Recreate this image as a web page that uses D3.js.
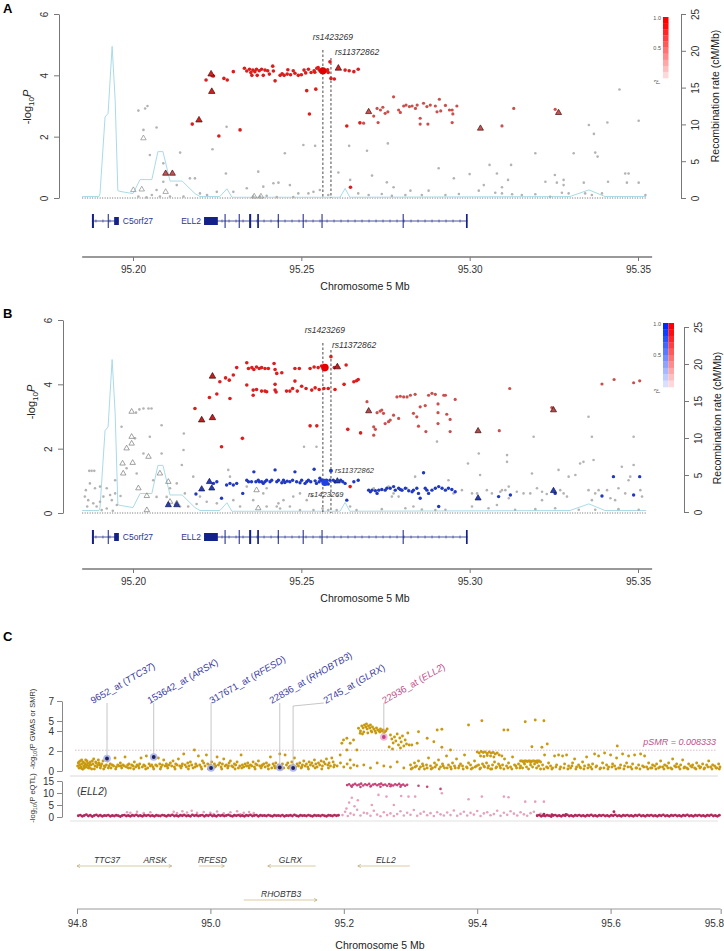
<!DOCTYPE html>
<html>
<head>
<meta charset="utf-8">
<script src="https://cdn.jsdelivr.net/npm/d3@7"></script>
<style>
  body { margin: 0; background: #fff; }
  svg { font-family: "Liberation Sans", Arial, sans-serif; }
</style>
</head>
<body>
<svg id="fig" width="724" height="951"></svg>
<script>
// ---------- panels A / B : positions are kb past 95.0 Mb, values are -log10(P) ----------
const recRate = [[184.9,0.2],[189.9,0.2],[190.2,0.6],[191.7,11.0],[192.6,11.5],[193.8,20.6],[194.7,13.3],[195.5,1.0],[196.1,0.9],[200.0,0.6],[202.1,2.5],[205.6,2.5],[207.4,6.3],[208.9,6.3],[211.0,2.3],[214.6,2.3],[218.4,0.6],[219.9,0.2],[225.8,0.2],[227.9,1.25],[229.4,0.1],[261.5,0.1],[263.0,1.3],[264.4,0.1],[329.8,0.2],[335.4,1.1],[340.2,0.2],[352.4,0.2]];

const snpLead = 256.4;      // rs1423269
const snpSecond = 258.8;    // rs11372862

const aHigh = [[221.7,3.85],[223.5,3.99],[223.9,3.98],[227.0,3.90],[228.0,3.85],[229.8,4.12],[233.1,4.23],[233.8,4.14],[234.6,4.20],[235.0,4.09],[235.6,4.17],[236.2,4.12],[236.7,4.20],[237.5,4.15],[238.2,4.20],[239.2,4.17],[235.3,4.00],[236.9,4.00],[238.7,4.00],[240.0,4.15],[240.5,4.04],[241.5,4.30],[241.7,4.14],[242.2,3.82],[243.7,4.00],[244.3,4.05],[244.9,4.00],[245.8,4.04],[246.0,4.18],[246.8,4.02],[247.6,4.15],[248.1,4.07],[249.1,4.00],[250.0,4.02],[250.8,4.17],[251.3,4.08],[252.1,4.20],[252.9,4.09],[253.8,4.15],[254.0,4.10],[254.6,4.23],[255.0,4.25],[255.3,4.17],[255.8,4.12],[256.3,4.20],[256.8,4.16],[257.3,4.14],[257.8,4.18],[258.0,4.09],[258.5,4.44],[258.8,3.90],[259.8,3.88],[263.0,4.17],[264.2,4.15],[265.6,4.12],[266.9,4.20],[251.6,3.50],[254.3,3.55],[252.4,2.74],[217.6,2.41],[225.5,2.02],[231.8,2.22],[263.5,2.35],[267.4,2.45],[264.6,0.35]];
const aHighTri = [[223.2,4.04],[223.4,3.47],[219.6,2.54],[261.0,4.23]];
const aMid = [[268.5,2.44],[271.5,2.67],[272.5,2.92],[272.8,2.46],[273.5,2.87],[274.2,2.96],[274.9,2.76],[275.7,2.81],[277.4,3.30],[278.9,2.87],[279.4,2.79],[280.4,3.00],[281.1,3.03],[282.1,2.98],[282.9,3.00],[283.9,2.92],[284.4,3.03],[285.3,2.60],[285.3,2.41],[286.3,3.09],[287.3,2.98],[287.6,2.41],[288.3,3.03],[289.8,3.00],[290.3,2.81],[291.0,3.22],[291.4,2.84],[292.8,3.02],[294.0,2.87],[294.8,2.87],[295.0,2.74],[294.8,2.46],[296.2,3.00],[313.1,2.92],[309.6,2.35],[325.4,2.89]];
const aMidTri = [[270.0,2.81],[303.2,2.27],[326.4,2.78],[209.7,0.80],[211.7,0.80]];
const aLow = [[201.6,2.85],[203.6,2.92],[204.3,3.00],[203.1,2.22],[207.0,2.30],[205.0,1.40],[209.0,1.13],[214.0,1.48],[223.6,1.59],[227.8,2.32],[245.1,1.46],[250.6,1.73],[254.1,1.70],[227.6,0.80],[237.2,0.86],[264.2,1.70],[261.0,0.83],[264.5,0.59],[209.0,0.53],[207.0,0.26],[213.0,0.42],[216.9,0.64],[218.4,0.64],[219.9,0.15],[222.0,0.10],[224.9,0.20],[229.8,0.20],[233.8,0.32],[238.7,0.37],[241.7,0.48],[243.2,0.50],[246.6,0.42],[249.1,0.15],[252.1,0.15],[253.6,0.20],[255.5,0.26],[258.0,0.10],[266.9,0.15],[201.6,0.05],[204.0,0.02],[205.6,0.10],[208.0,0.05],[211.0,0.05],[215.0,0.05],[235.7,0.05],[237.7,0.05],[239.7,0.07],[242.7,0.03],[247.6,0.03],[269.5,1.54],[275.7,1.78],[271.0,0.73],[275.4,0.51],[277.4,0.35],[282.4,0.24],[287.8,0.24],[290.8,0.97],[295.3,0.64],[296.8,0.13],[300.0,0.78],[302.7,0.24],[304.2,0.42],[305.9,1.08],[308.1,0.80],[309.6,0.35],[311.4,0.59],[312.3,1.08],[312.6,0.12],[319.5,1.46],[322.5,0.53],[325.3,0.75],[325.9,0.50],[327.9,0.59],[327.9,0.42],[330.9,1.46],[333.9,0.50],[335.4,2.38],[336.9,2.09],[337.3,1.48],[338.0,1.35],[341.1,0.53],[340.9,2.46],[344.5,3.54],[346.2,0.80],[347.2,0.80],[346.7,0.50],[350.2,2.52],[350.2,0.50],[352.2,0.10],[334.3,0.15],[336.3,0.10],[339.3,0.15],[327.4,0.17],[319.5,0.12],[315.5,0.10],[309.6,0.15],[307.6,0.17],[292.8,0.10],[285.8,0.10],[280.9,0.10],[276.9,0.07],[273.9,0.13],[270.0,0.10],[323.9,0.04],[329.4,0.15]];
const aLowTri = [[200.1,0.26],[202.6,0.28],[209.7,0.20],[203.1,1.95],[236.0,0.05],[238.0,0.05]];
const aLead = [[256.4,4.15]];

const bRed = [[233.8,4.67],[234.3,4.49],[235.3,4.52],[235.9,4.46],[236.7,4.54],[237.5,4.49],[238.2,4.52],[239.2,4.49],[240.2,4.49],[241.9,4.65],[242.2,4.46],[242.7,4.34],[244.2,4.36],[248.1,4.49],[249.4,4.49],[252.6,4.49],[253.8,4.54],[255.0,4.52],[256.0,4.57],[258.8,4.86],[259.8,4.52],[263.3,4.60],[266.4,4.11],[266.9,4.15],[230.8,4.52],[229.8,4.29],[228.6,4.13],[227.5,4.20],[225.8,4.08],[222.7,3.59],[224.9,3.70],[228.8,3.56],[218.4,3.25],[226.3,2.06],[232.5,2.32],[252.6,2.71],[254.6,2.71],[263.8,2.60],[267.6,2.49],[233.8,3.98],[235.7,3.82],[235.7,3.66],[236.7,3.84],[238.2,3.79],[239.2,3.79],[239.7,3.77],[242.2,4.00],[242.2,3.82],[242.5,3.76],[245.6,3.79],[246.6,3.79],[247.4,3.87],[248.1,4.10],[248.8,3.79],[250.1,3.94],[251.4,3.87],[253.1,3.82],[254.1,3.89],[255.3,3.84],[256.7,3.87],[258.0,3.87],[260.0,3.84],[262.7,4.00],[265.6,4.08],[264.5,0.82]];
const bRedTri = [[223.6,4.25],[220.4,2.89],[223.6,2.96],[260.7,4.54]];
const bRedMid = [[269.5,3.46],[271.5,2.42],[271.5,2.68],[272.0,2.60],[272.5,3.12],[273.4,3.17],[273.9,3.20],[274.4,3.10],[274.9,2.78],[275.9,2.84],[276.4,2.89],[277.4,3.04],[278.4,3.61],[279.4,3.63],[280.4,3.61],[281.4,3.61],[282.4,3.66],[283.8,3.69],[278.9,2.94],[283.3,3.10],[284.3,2.99],[284.8,2.70],[285.3,3.30],[286.8,3.34],[287.0,2.53],[287.8,3.66],[288.8,3.72],[289.8,3.69],[290.6,3.39],[290.6,3.12],[290.6,2.78],[292.3,3.66],[292.8,3.66],[293.2,3.07],[294.2,2.91],[294.2,2.53],[295.7,3.53],[311.9,3.87],[308.8,2.56],[324.4,3.28],[339.3,4.01],[342.9,4.15],[348.7,4.05],[350.5,4.11]];
const bRedMidTri = [[270.0,3.17],[324.9,3.20],[302.5,2.55]];
const bBlue = [[218.7,0.59],[223.9,0.92],[224.9,0.97],[226.3,0.46],[227.8,0.87],[228.8,0.92],[229.8,0.87],[230.8,0.92],[232.6,0.61],[233.8,1.02],[234.3,0.97],[235.2,0.97],[235.9,1.28],[236.5,0.97],[237.2,1.02],[237.5,0.97],[238.2,0.97],[238.7,0.92],[239.2,0.97],[239.7,1.02],[240.7,0.97],[241.2,1.02],[242.2,1.34],[242.7,0.97],[243.2,1.02],[244.2,0.94],[244.7,1.02],[245.1,0.95],[245.8,0.99],[246.6,0.97],[247.4,1.02],[248.1,1.28],[248.6,0.97],[249.6,0.94],[250.1,1.02],[251.1,0.92],[251.6,0.97],[252.1,1.02],[252.8,0.97],[253.8,1.36],[254.1,1.00],[254.5,0.92],[255.3,0.97],[255.5,1.08],[256.0,1.02],[257.5,1.02],[258.0,0.90],[258.5,1.02],[259.5,1.02],[260.0,0.97],[261.7,1.02],[262.3,0.97],[263.0,0.92],[263.5,0.40],[265.6,0.97],[266.9,1.02],[270.0,0.71],[270.5,0.66],[271.0,0.71],[272.0,0.69],[272.5,0.61],[273.0,0.71],[273.9,0.73],[274.9,0.71],[275.4,0.77],[276.4,0.77],[277.4,0.82],[277.9,0.71],[278.9,0.77],[279.4,0.73],[279.9,0.71],[280.9,0.77],[281.9,0.69],[282.9,0.66],[283.3,0.71],[284.3,0.77],[284.8,0.61],[285.3,0.46],[286.3,1.25],[286.8,0.77],[287.3,0.71],[287.8,0.61],[288.8,0.71],[289.8,0.77],[290.8,0.82],[291.8,0.77],[292.8,0.71],[293.7,0.77],[294.7,0.73],[295.7,0.66],[290.8,0.20],[308.6,0.51],[312.1,0.56],[339.3,0.53],[342.7,1.13],[348.7,0.56],[350.5,1.13],[325.4,0.61]];
const bBlueTri = [[220.4,0.74],[222.7,0.97],[223.4,0.77],[260.7,0.99],[302.5,0.46],[324.9,0.69],[210.5,0.25],[213.0,0.25]];
const bGray = [[187.0,1.31],[187.7,1.31],[188.5,1.31],[196.6,2.68],[200.9,3.12],[201.9,3.22],[203.1,3.25],[204.6,3.25],[205.5,3.25],[208.5,2.73],[200.6,2.32],[198.1,1.39],[201.1,1.23],[203.1,1.85],[205.0,2.37],[196.3,0.53],[194.7,0.61],[193.2,0.56],[191.2,0.51],[190.2,0.82],[187.2,0.92],[188.7,0.77],[186.7,0.40],[188.2,0.30],[189.2,0.20],[190.7,0.09],[192.2,0.14],[194.0,0.07],[195.2,0.25],[211.0,0.77],[213.0,0.92],[208.5,1.85],[214.5,1.49],[215.1,2.47],[215.0,1.96],[217.9,1.13],[219.9,0.51],[218.9,0.28],[221.9,0.35],[224.9,0.30],[228.3,1.34],[228.8,1.13],[233.8,0.82],[238.7,0.61],[239.7,0.77],[239.7,0.20],[242.7,0.20],[243.2,0.30],[243.7,0.14],[244.7,0.40],[247.6,0.51],[249.6,0.61],[253.1,0.53],[250.8,2.06],[254.5,2.06],[253.6,0.09],[256.3,0.14],[258.0,0.09],[260.5,0.09],[264.5,0.20],[266.4,0.09],[260.7,0.53],[185.7,0.51],[186.0,0.71],[186.4,0.20],[190.2,0.35],[193.7,0.40],[194.7,1.02],[192.2,0.77],[207.0,0.50],[206.0,1.02],[210.0,0.50],[214.0,0.20],[215.4,0.61],[216.4,0.20],[229.8,0.40],[231.8,0.20],[235.7,0.40],[246.6,0.20],[249.6,0.09],[251.6,0.40],[271.5,0.77],[273.0,0.71],[275.9,0.82],[276.9,0.51],[277.4,0.61],[278.9,0.51],[279.9,0.69],[281.4,0.77],[283.3,0.20],[283.8,1.13],[290.3,2.22],[289.8,0.09],[293.7,1.02],[295.2,0.61],[297.7,0.71],[299.5,1.54],[300.7,0.61],[302.2,0.61],[303.1,1.18],[302.7,1.85],[305.1,0.71],[306.6,0.61],[308.1,0.25],[309.1,0.66],[309.6,0.71],[310.6,0.71],[311.6,0.82],[311.1,1.80],[311.1,1.59],[311.6,0.46],[314.0,0.66],[316.0,0.61],[318.0,0.61],[318.5,1.23],[319.0,2.37],[320.0,0.77],[321.5,0.66],[321.5,0.40],[322.9,0.59],[326.4,1.34],[326.9,0.71],[327.9,0.61],[328.9,0.51],[329.4,1.13],[331.4,1.18],[332.8,1.54],[333.8,1.59],[335.3,2.99],[336.3,2.37],[336.8,1.65],[335.3,0.71],[337.3,0.61],[338.3,0.71],[336.3,0.40],[340.8,0.71],[341.8,0.46],[343.2,0.40],[344.2,0.77],[345.2,1.44],[346.2,0.61],[347.2,1.02],[347.7,1.13],[348.7,1.49],[348.7,2.37],[350.7,0.71],[351.2,0.51],[273.9,0.12],[280.9,0.15],[285.8,0.11],[292.8,0.10],[300.7,0.20],[305.6,0.15],[313.5,0.10],[319.5,0.12],[325.4,0.15],[332.4,0.10],[337.3,0.10],[344.2,0.12],[350.2,0.10]];
const bGrayTri = [[199.6,3.15],[199.6,2.37],[199.6,2.16],[198.1,2.01],[196.9,1.54],[199.9,1.56],[197.1,1.23],[204.6,1.75],[201.6,0.77],[204.1,0.53],[208.0,1.23],[210.5,0.97],[211.0,0.35],[213.0,0.30],[236.7,0.71],[237.2,0.15],[204.1,0.09]];
const bLeadRed = [[257.0,4.52]];
const bLeadBlue = [[257.0,0.95]];
const bSecondBlue = [[258.8,1.31]];

// gene models for A / B (kb past 95.0 Mb)
const genesAB = [
  { name: "C5orf27", start: 187.8, end: 195.8, labelSide: "right",
    exons: [[187.8,188.4],[192.5,192.7],[194.4,195.8]] },
  { name: "ELL2", start: 221.1, end: 299.4, labelSide: "left",
    exons: [[221.1,225.2],[227.2,227.5],[231.4,231.7],[234.5,235.1],[236.9,237.4],[243.0,243.3],[250.4,250.7],[256.0,256.3],[280.1,280.4],[298.9,299.4]] }
];

// ---------- panel C : positions are kb past 94.8 Mb ----------
const cGwas = [[1,.5],[2,.8],[3,.3],[4,.6],[5,1.0],[6,.4],[7,.7],[8,.2],[9,.9],[10,.5],[11,.3],[12,.7],[13,1.1],[14,.4],[15,.6],[16,.8],[17,.3],[18,.5],[20,.9],[21,.6],[22,.2],[24,.7],[25,1.2],[27,.5],[29,.8],[30,.4],[32,1.1],[34,.6],[35,.3],[37,.7],[39,1.0],[41,.5],[42,.4],[44,.6],[46,1.0],[48,.5],[50,.7],[51,.3],[53,.6],[55,.5],[57,1.3],[59,.4],[61,.6],[63,.5],[65,.8],[67,.3],[69,.6],[71,.5],[72,1.4],[74,.4],[76,.6],[78,.7],[80,.3],[82,.6],[84,.5],[86,.9],[88,.4],[90,.6],[92,.5],[94,.7],[96,1.3],[98,.4],[100,.6],[102,.5],[104,1.5],[106,.3],[108,.7],[110,.5],[112,.6],[114,.4],[116,1.4],[118,.6],[120,.5],[122,1.3],[124,.7],[126,.4],[128,.6],[130,1.1],[132,.5],[134,.7],[136,.3],[138,.6],[140,.8],[142,.5],[144,1.0],[146,.4],[148,.7],[150,.6],[152,1.2],[154,.5],[156,.3],[158,.7],[160,1.7],[162,.6],[164,.4],[166,.8],[168,.5],[170,.9],[172,.6],[174,.3],[176,2.1],[178,.7],[180,.5],[182,1.5],[184,.6],[186,.4],[188,1.0],[190,.8],[192,.5],[194,1.6],[196,.7],[198,.4],[200,.6],[202,.9],[204,.3],[206,.7],[208,.5],[210,1.4],[212,.6],[214,.8],[216,.4],[218,.7],[220,1.2],[222,.5],[224,.6],[226,.3],[228,.8],[230,1.0],[232,.5],[234,.4],[236,.7],[238,.6],[240,.9],[242,.3],[244,.5],[246,1.6],[248,.6],[250,.4],[252,.7],[254,.5],[256,.8],[258,.3],[260,.6],[262,.5],[264,.9],[266,.4],[268,.7],[270,.6],[272,1.0],[274,.5],[276,.3],[278,.6],[280,.7],[282,.4],[284,.8],[286,.5],[288,.6],[290,1.4],[292,.3],[294,.7],[296,.5],[298,.8],[300,.4],[302,.6],[304,1.7],[306,.5],[308,.7],[310,.3],[312,1.6],[314,.6],[316,.8],[318,.4],[320,.5],[322,.9],[324,.6],[326,1.3],[328,.4],[330,.7],[332,.5],[334,.8],[336,.3],[338,.6],[340,1.0],[342,.5],[344,.7],[346,.4],[348,.9],[350,.6],[352,.8],[354,.5],[356,1.1],[358,.7],[360,.4],[362,.8],[364,.6],[366,1.0],[368,.5],[370,.9],[372,.7],[374,1.2],[376,.6],[378,.8],[380,.5],[382,1.3],[384,.9],[386,.6],[3,.9],[7,1.1],[11,.8],[15,1.0],[19,.7],[23,1.0],[28,.9],[33,.8],[5,.3],[9,.2],[13,.5],[19,.3],[26,.2],[31,.6],[36,.5],[40,.2],[47,.3],[58,.2],[66,.5],[77,.3],[85,.2],[93,.3],[103,.2],[115,.2],[125,.2],[135,.5],[147,.2],[157,.5],[167,.2],[177,.4],[187,.2],[197,.2],[207,.4],[217,.2],[227,.5],[237,.2],[247,.3],[257,.5],[267,.2],[277,.5],[287,.2],[297,.3],[307,.2],[317,.3],[327,.2],[337,.4],[347,.2],[357,.3],[367,.2],[377,.3],[385,.4],
[394.6,1.6],[397.1,2.77],[399.6,3.1],[404.6,3.27],[404.6,2.1],[409.6,2.77],[409.6,1.1],[414.6,3.1],[419.6,2.1],[422.1,4.27],[424.6,3.77],[390,.5],[395,.8],[400,.4],[405,.7],[410,.3],[415,.6],[420,.5],
[425,4.0],[427,4.5],[428,3.7],[429,4.3],[430,3.9],[431,4.6],[433,4.4],[434,4.7],[435,4.2],[436,3.8],[437,4.5],[439,4.3],[440,4.6],[441,4.0],[442,3.9],[443,4.4],[445,4.2],[447,4.0],[448,3.8],[449,4.3],[451,4.1],[453,4.0],[454,3.9],[455,4.2],[457,4.0],[459,4.1],[460,3.8],[461,3.9],[463,4.0],[465,4.2],[468,2.4],[470,3.6],[472,3.2],[473,2.2],[474,2.8],[476,3.4],[478,3.0],[480,3.7],[482,2.6],[484,3.3],[485,2.3],[486,2.9],[488,3.5],[490,2.5],[492,3.1],[494,2.7],[496,3.8],[498,2.6],[502,2.6],[510,2.77],[512,3.93],[525,3.27],[535,2.93],[540,4.1],[547,4.17],[587,4.6],[607,5.03],[640,4.1],[646,4.1],[672,4.93],[687,5.1],[700,5.03],[547,2.37],[560,2.1],[682,2.43],[697,2.37],[705,2.7],[810,2.5],[430,.6],[440,.3],[450,.8],[460,.5],[470,.4],[480,.9],[490,.3],
[500,.6],[503,.3],[506,.8],[509,.5],[512,1.0],[515,.4],[518,.7],[521,.2],[524,.6],[527,1.3],[530,.5],[533,.3],[536,.8],[539,.6],[542,1.1],[545,.4],[548,.7],[551,.3],[554,1.5],[557,.6],[560,.4],[563,.8],[566,.5],[569,1.2],[572,.3],[575,.7],[578,.5],[581,1.6],[584,.4],[587,.8],[590,.6],[593,.3],[596,1.0],[599,.5],[600,1.9],[603,1.8],[606,1.95],[609,1.85],[612,1.9],[615,1.75],[618,1.9],[621,1.8],[624,1.85],[627,1.7],[630,1.8],[605,1.5],[610,1.45],[615,1.55],[620,1.5],[625,1.4],[633,1.6],[637,1.5],[602,.6],[605,.3],[608,.7],[611,.4],[614,.8],[617,.5],[620,.2],[623,.6],[626,.9],[629,.4],[632,.7],[635,.3],[638,.6],[641,1.2],[644,.5],[647,.8],[650,.4],[653,1.4],[656,.6],[659,.3],[662,.7],[665,1.0],[667,1.0],[669,.95],[671,1.0],[673,1.0],[675,.95],[677,1.0],[679,1.0],[681,.95],[683,1.0],[685,1.0],[687,.95],[689,1.0],[691,1.0],[693,1.0],[695,.9],[670,.85],[680,.85],[690,.85],[665,.5],[668,.3],[671,.7],[674,.4],[677,.2],[680,.6],[683,.4],[686,.7],[689,.3],[692,.5],[695,.2],[698,.6],[701,1.6],[704,.4],[707,.8],[710,.5],[713,.3],[716,1.5],[719,.6],[722,1.6],[725,.4],[728,1.5],[731,.7],[734,1.6],[737,.5],[740,.3],[743,.8],[746,1.2],[749,.4],[752,.6],[755,.3],[758,.9],[761,.5],[764,1.4],[767,.6],[770,.4],[773,.7],[776,1.7],[779,.5],[782,1.5],[785,.3],[788,.8],[791,1.8],[794,.6],[797,.4],[800,1.6],[803,.7],[806,.5],[809,1.3],[812,.3],[815,.6],[818,1.7],[821,.5],[824,.8],[827,1.5],[830,.4],[833,.7],[836,1.6],[839,.3],[842,.6],[845,1.7],[848,.5],[851,1.5],[854,.4],[857,.8],[860,.3],[863,.6],[866,.5],[869,.7],[872,.3],[875,1.0],[878,.4],[881,.6],[884,.5],[887,.8],[890,.3],[893,1.2],[896,.5],[899,.7],[902,.4],[905,.6],[908,1.1],[911,.4],[914,.3],[917,.7],[920,.5],[923,.6],[926,.3],[929,.8],[932,.5],[935,.4],[938,.7],[941,.3],[944,.6],[947,1.0],[950,.4],[953,.6],[956,.5],[959,.3],[962,.7],[964,.4],
[501,.2],[507,.4],[513,.2],[519,.5],[525,.3],[531,.2],[537,.4],[543,.2],[549,.5],[555,.3],[561,.2],[567,.3],[573,.5],[579,.2],[585,.3],[591,.2],[597,.4],[604,.2],[610,.5],[616,.3],[622,.2],[628,.3],[634,.5],[640,.2],[646,.3],[652,.2],[658,.5],[664,.3],[700,.2],[706,.3],[712,.2],[718,.4],[724,.2],[730,.3],[736,.2],[742,.5],[748,.2],[754,.4],[760,.2],[766,.3],[772,.2],[778,.4],[784,.2],[790,.3],[796,.2],[802,.4],[808,.2],[814,.3],[820,.2],[826,.4],[832,.2],[838,.3],[844,.2],[850,.4],[856,.2],[862,.3],[868,.2],[874,.4],[880,.2],[886,.3],[892,.2],[898,.4],[904,.2],[910,.3],[916,.2],[922,.4],[928,.2],[934,.3],[940,.2],[946,.4],[952,.2],[958,.3],[963,.2]];

const cEqtl = [[2,.5],[5,.8],[8,.3],[11,.6],[14,1.0],[17,.4],[20,.7],[23,.2],[26,.6],[29,.9],[32,.4],[35,.7],[38,.3],[41,.6],[44,.5],[47,.8],[50,.3],[53,.6],[56,.4],[59,.7],[62,.5],[65,.2],[68,.6],[71,.8],[74,.4],[77,.6],[80,.3],[83,.7],[86,.5],[89,.9],[92,.4],[95,.6],[98,.3],[101,.7],[104,.5],[107,.8],[110,.4],[113,.6],[116,.3],[119,.7],[122,.5],[125,.4],[128,.8],[131,.6],[134,.3],[137,.7],[140,.5],[143,.9],[146,.4],[149,.6],[152,.3],[155,.7],[158,.5],[161,.8],[164,.4],[167,.6],[170,.3],[173,.9],[176,.5],[179,.7],[182,.4],[185,.6],[188,.8],[191,.3],[194,.7],[197,.5],[200,.9],[203,.4],[206,.6],[209,.3],[212,.8],[215,.5],[218,.7],[221,.4],[224,.6],[227,.9],[230,.5],[233,.3],[236,.7],[239,.5],[242,.8],[245,.4],[248,.6],[251,.3],[254,.7],[257,.5],[260,.9],[263,.4],[266,.6],[269,.8],[272,.3],[275,.7],[278,.5],[281,.6],[284,.4],[287,.8],[290,.5],[293,.3],[296,.7],[299,.5],[302,.6],[305,.4],[308,.8],[311,.3],[314,.6],[317,.5],[320,.7],[323,.4],[326,.9],[329,.5],[332,.3],[335,.7],[338,.5],[341,.6],[344,.4],[347,.8],[350,.5],[353,.3],[356,.7],[359,.5],[362,.6],[365,.4],[368,.8],[371,.5],[374,.3],[377,.7],[380,.6],[383,.4],[386,.8],[389,.5],[392,.7],
[690,.5],[693,.8],[696,.3],[699,.6],[702,.4],[705,.7],[708,.5],[711,.2],[714,.6],[717,.8],[720,.4],[723,.6],[726,.3],[729,.7],[732,.5],[735,.9],[738,.4],[741,.6],[744,.3],[747,.7],[750,.5],[753,.8],[756,.4],[759,.6],[762,.3],[765,.7],[768,.5],[771,.9],[774,.4],[777,.6],[780,.3],[783,.7],[786,.5],[789,.8],[792,.4],[795,.6],[798,.3],[801,.7],[804,.5],[807,.9],[810,.4],[813,.6],[816,.3],[819,.7],[822,.5],[825,.8],[828,.4],[831,.6],[834,.3],[837,.7],[840,.5],[843,.9],[846,.4],[849,.6],[852,.3],[855,.7],[858,.5],[861,.8],[864,.4],[867,.6],[870,.3],[873,.7],[876,.5],[879,.9],[882,.4],[885,.6],[888,.3],[891,.7],[894,.5],[897,.8],[900,.4],[903,.6],[906,.3],[909,.7],[912,.5],[915,.9],[918,.4],[921,.6],[924,.3],[927,.7],[930,.5],[933,.8],[936,.4],[939,.6],[942,.3],[945,.7],[948,.5],[951,.9],[954,.4],[957,.6],[960,.3],[963,.7],[805,2.2],[700,1.2],[712,1.0],[733,1.1]];

const cEqtlLight = [[75,2.0],[80,1.8],[90,2.2],[100,1.6],[110,2.0],[145,2.2],[150,1.6],[158,2.4],[165,1.9],[172,2.6],[180,1.7],[190,2.1],[200,1.8],[210,2.3],[220,1.5],[230,2.0],[240,2.4],[250,1.7],[258,2.1],[265,1.6],[160,1.0],[205,1.2],[245,1.1],[398,.8],[402,2.2],[406,.4],[410,1.5],[415,.9],[420,3.0],[425,.6],[430,1.8],[435,1.5],[440,.5],[445,2.6],[450,1.0],[455,.3],[460,2.0],[465,.8],[470,1.5],[475,.4],[480,1.2],[485,2.4],[490,.6],[495,1.8],[500,.9],[505,2.9],[510,.5],[515,1.4],[520,2.2],[525,.7],[530,1.6],[535,.4],[540,2.0],[545,1.1],[550,.6],[555,1.9],[560,.8],[565,2.7],[570,.5],[575,1.3],[580,2.2],[585,.6],[590,1.7],[595,1.0],[600,2.5],[605,.4],[610,1.5],[615,2.0],[620,.7],[625,1.2],[630,2.6],[635,.5],[640,1.8],[645,.9],[650,2.4],[655,1.4],[660,.6],[665,2.0],[670,1.1],[675,.5],[680,1.6],[685,2.2],[690,.8],[695,1.3],[404,3.5],[408,6.0],[412,8.0],[416,4.5],[421,7.0],[442,5.0],[475,5.0],[452,9.2],[464,8.5],[486,8.75],[497,8.5],[507,8.5],[547,9.9],[587,7.4],[607,8.5],[640,8.5],[647,8.2],[672,6.4],[687,6.4],[700,6.4]];

const cEqtlTop = [[405,13.3],[408,13.6],[411,13.0],[414,13.4],[417,13.8],[420,13.2],[423,13.5],[426,13.9],[429,13.1],[432,13.6],[435,13.3],[438,13.8],[441,13.0],[444,13.5],[447,13.7],[450,13.2],[453,13.6],[456,13.9],[459,13.3],[462,13.5],[465,13.0],[468,13.7],[471,13.4],[474,13.1],[477,13.6],[480,13.3],[483,13.8],[486,13.2],[489,13.5],[492,13.0],[495,13.4],[412,12.6],[425,12.5],[440,12.7],[455,12.6],[470,12.8],[485,12.6],[512,13.0],[525,12.6],[545,11.7]];

// SMR probes: position (Mb), -log10 P(SMR), label anchor (Mb)
const cProbes = [
  { probe: "9652_at",   gene: "TTC37",   pos: 94.845, p: 1.25, anchor: 94.824, hit: false },
  { probe: "153642_at", gene: "ARSK",    pos: 94.915, p: 1.40, anchor: 94.909, hit: false },
  { probe: "317671_at", gene: "RFESD",   pos: 95.001, p: 0.30, anchor: 95.002, hit: false },
  { probe: "22836_at",  gene: "RHOBTB3", pos: 95.104, p: 0.35, anchor: 95.092, hit: false },
  { probe: "2745_at",   gene: "GLRX",    pos: 95.124, p: 0.30, anchor: 95.173, hit: false },
  { probe: "22936_at",  gene: "ELL2",    pos: 95.260, p: 3.40, anchor: 95.261, hit: true }
];
const pSMR = 0.008333;

const cGenes = [
  { name: "TTC37",   start: 94.800, end: 94.861, strand: -1, row: 0, label: 94.845 },
  { name: "ARSK",    start: 94.861, end: 94.942, strand: 1,  row: 0, label: 94.917 },
  { name: "RFESD",   start: 94.983, end: 95.021, strand: 1,  row: 0, label: 95.003 },
  { name: "GLRX",    start: 95.086, end: 95.158, strand: -1, row: 0, label: 95.120 },
  { name: "ELL2",    start: 95.221, end: 95.299, strand: -1, row: 0, label: 95.263 },
  { name: "RHOBTB3", start: 95.050, end: 95.160, strand: 1,  row: 1, label: 95.106 }
];
const cTickVals = [94.8, 95.0, 95.2, 95.4, 95.6, 95.765];
const cTickLabels = ["94.8", "95.0", "95.2", "95.4", "95.6", "95.8"];

// ---------------------------------------------------------------
const svg = d3.select("#fig");
const mbAB = k => 95 + k / 1000;
const mbC = k => 94.8 + k / 1000;
const intFmt = d3.format("d");

function drawDots(g, data, fx, fy, r, fill, opt = {}) {
  g.append("g").selectAll("circle").data(data).join("circle")
    .attr("cx", fx).attr("cy", fy).attr("r", r)
    .attr("fill", fill)
    .attr("stroke", opt.stroke || "none").attr("stroke-width", opt.sw || 0)
    .attr("opacity", opt.op == null ? 1 : opt.op);
}
function drawTris(g, data, fx, fy, size, fill, stroke) {
  const sym = d3.symbol().type(d3.symbolTriangle).size(size);
  g.append("g").selectAll("path").data(data).join("path")
    .attr("transform", d => `translate(${fx(d)},${fy(d)})`)
    .attr("d", sym).attr("fill", fill).attr("stroke", stroke).attr("stroke-width", 0.7);
}

function locus(P) {
  const g = svg.append("g");
  const x = d3.scaleLinear().domain([95.20, 95.35]).range([133, 638]);
  const y = d3.scaleLinear().domain([0, 6]).range([P.base, P.top]);
  const yr = d3.scaleLinear().domain([0, 25]).range([P.recBase, P.recTop]);
  const fx = d => x(mbAB(d[0])), fy = d => y(d[1]);

  // panel letter
  g.append("text").attr("x", 3).attr("y", P.letterY).attr("font-size", 13).attr("font-weight", "bold").text(P.letter);

  // left axis
  const la = g.append("g").attr("transform", `translate(${P.axisX},0)`)
    .call(d3.axisLeft(y).tickValues([0, 2, 4, 6]).tickFormat(intFmt).tickSize(5).tickSizeOuter(0));
  la.select(".domain").attr("stroke", "#777");
  la.selectAll(".tick line").attr("stroke", "#777");
  la.selectAll(".tick text").attr("transform", "rotate(-90)").attr("x", 0).attr("y", -11).attr("dy", 0)
    .attr("text-anchor", "middle").attr("font-size", 10).attr("fill", "#333").attr("font-family", "Liberation Sans, Arial");
  const yl = g.append("text").attr("transform", `translate(${P.ylabX},${P.ylabY}) rotate(-90)`)
    .attr("text-anchor", "middle").attr("font-size", 11).attr("fill", "#222");
  yl.append("tspan").text("-log");
  yl.append("tspan").attr("font-size", 8).attr("dy", 3).text("10");
  yl.append("tspan").attr("font-style", "italic").attr("dy", -3).text("P");

  // right axis (recombination)
  const ra = g.append("g").attr("transform", `translate(${P.rightX},0)`)
    .call(d3.axisRight(yr).tickValues([0, 5, 10, 15, 20, 25]).tickFormat(intFmt).tickSize(5).tickSizeOuter(0));
  ra.select(".domain").attr("stroke", "#777");
  ra.selectAll(".tick line").attr("stroke", "#777");
  ra.selectAll(".tick text").attr("transform", "rotate(-90)").attr("x", 0).attr("y", 18).attr("dy", 0)
    .attr("text-anchor", "middle").attr("font-size", 10).attr("fill", "#333").attr("font-family", "Liberation Sans, Arial");
  g.append("text").attr("transform", `translate(${P.rlabX},${P.rlabY}) rotate(-90)`)
    .attr("text-anchor", "middle").attr("font-size", 10.5).attr("fill", "#222").text("Recombination rate (cM/Mb)");

  // baseline
  g.append("line").attr("x1", fx([184.9])).attr("x2", fx([352.4])).attr("y1", y(0)).attr("y2", y(0))
    .attr("stroke", "#444").attr("stroke-width", 0.8).attr("stroke-dasharray", "1,1.5");

  // recombination rate
  g.append("path").datum(recRate)
    .attr("d", d3.line().x(fx).y(d => yr(d[1])))
    .attr("fill", "none").attr("stroke", "#a9dbe7").attr("stroke-width", 1);

  // SNP dashed markers
  P.snpLines.forEach(s => {
    g.append("line").attr("x1", fx([s.pos])).attr("x2", fx([s.pos])).attr("y1", s.top).attr("y2", y(0))
      .attr("stroke", "#333").attr("stroke-width", 0.9).attr("stroke-dasharray", "2.5,2");
    g.append("text").attr("x", fx([s.pos]) + s.dx).attr("y", s.ty).attr("text-anchor", s.anchor)
      .attr("font-size", s.fs || 8.5).attr("font-style", "italic").attr("fill", "#333").text(s.name);
  });

  // points
  P.layers.forEach(L => {
    if (L.tri) drawTris(g, L.data, fx, fy, L.size, L.fill, L.stroke);
    else drawDots(g, L.data, fx, fy, L.r, L.fill, L);
  });
  (P.innerLabels || []).forEach(s => {
    g.append("text").attr("x", fx([s.pos]) + s.dx).attr("y", y(s.v)).attr("font-size", 7.5)
      .attr("font-style", "italic").attr("fill", "#333").text(s.name);
  });

  // genes
  genesAB.forEach(gn => {
    const gy = P.geneY;
    g.append("line").attr("x1", fx([gn.start])).attr("x2", fx([gn.end])).attr("y1", gy).attr("y2", gy)
      .attr("stroke", "#1f2a8a").attr("stroke-width", 0.8);
    d3.range(fx([gn.start]) + 4, fx([gn.end]) - 2, 7).forEach(tx => {
      g.append("line").attr("x1", tx).attr("x2", tx).attr("y1", gy - 1.5).attr("y2", gy + 1.5)
        .attr("stroke", "#1f2a8a").attr("stroke-width", 0.6);
    });
    gn.exons.forEach(e => {
      const w = Math.max(fx([e[1]]) - fx([e[0]]), 1);
      const h = w > 3 ? 8 : 14;
      g.append("rect").attr("x", fx([e[0]])).attr("width", w).attr("y", gy - h / 2).attr("height", h).attr("fill", "#14218a");
    });
    const lx = gn.labelSide === "right" ? fx([gn.end]) + 4 : fx([gn.start]) - 3;
    g.append("text").attr("x", lx).attr("y", gy + 3).attr("text-anchor", gn.labelSide === "right" ? "start" : "end")
      .attr("font-size", 8.5).attr("fill", "#2a3596").text(gn.name);
  });

  // x axis
  const xa = g.append("g").attr("transform", `translate(0,${P.axisY})`)
    .call(d3.axisBottom(x).tickValues([95.20, 95.25, 95.30, 95.35]).tickFormat(d3.format(".2f")).tickSize(4).tickSizeOuter(0));
  xa.select(".domain").remove();
  xa.selectAll(".tick line").attr("stroke", "#777");
  xa.selectAll(".tick text").attr("font-size", 10).attr("fill", "#333").attr("y", 9).attr("font-family", "Liberation Sans, Arial");
  g.append("line").attr("x1", fx([184.9])).attr("x2", fx([354.2])).attr("y1", P.axisY).attr("y2", P.axisY)
    .attr("stroke", "#777").attr("stroke-width", 1.4);
  g.append("text").attr("x", 365).attr("y", P.axisY + 33).attr("text-anchor", "middle").attr("font-size", 10.5)
    .attr("fill", "#222").text("Chromosome 5 Mb");

  // r2 legend
  const steps = d3.range(10);
  P.legendCols.forEach((col, ci) => {
    steps.forEach(i => {
      const h = P.legendH / 10;
      g.append("rect").attr("x", P.legendX + ci * 5.5).attr("y", P.legendY + i * h).attr("width", 5.5).attr("height", h + 0.3)
        .attr("fill", d3.interpolateRgb("#ffffff", col)(1 - i / 10 + 0.05));
    });
  });
  g.append("text").attr("x", P.legendX - 2).attr("y", P.legendY + 3).attr("text-anchor", "end").attr("font-size", 5.5).attr("fill", "#555").text("1.0");
  g.append("text").attr("x", P.legendX - 2).attr("y", P.legendY + P.legendH / 2 + 2).attr("text-anchor", "end").attr("font-size", 5.5).attr("fill", "#555").text("0.5");
  const r2 = g.append("text").attr("transform", `translate(${P.legendX - 3},${P.legendY + P.legendH + 4}) rotate(-90)`)
    .attr("text-anchor", "middle").attr("font-size", 6.5).attr("fill", "#555");
  r2.append("tspan").text("r");
  r2.append("tspan").attr("font-size", 4.5).attr("dy", -2).text("2");
}

locus({
  letter: "A", letterY: 13, top: 14, base: 198, recTop: 14, recBase: 198, axisX: 59, rightX: 681,
  ylabX: 31, ylabY: 107, rlabX: 719, rlabY: 96, geneY: 221, axisY: 257,
  legendX: 663, legendY: 17, legendH: 61, legendCols: ["#ff0000"],
  snpLines: [
    { name: "rs1423269", pos: snpLead, top: 50, ty: 40, dx: 10, anchor: "middle" },
    { name: "rs11372862", pos: snpSecond, top: 58, ty: 55, dx: 4, anchor: "start" }
  ],
  layers: [
    { data: aLow, r: 1.3, fill: "#b3b3b3" },
    { data: aLowTri, tri: true, size: 13, fill: "none", stroke: "#8a8a8a" },
    { data: aMid, r: 1.6, fill: "#c9504d" },
    { data: aMidTri, tri: true, size: 16, fill: "#c25454", stroke: "#4a1010" },
    { data: aHigh, r: 1.8, fill: "#dd1c1c" },
    { data: aHighTri, tri: true, size: 18, fill: "#d42020", stroke: "#4a0c0c" },
    { data: aLead, r: 3.6, fill: "#e00000" }
  ]
});

locus({
  letter: "B", letterY: 318, top: 320, base: 513, recTop: 327, recBase: 512, axisX: 63, rightX: 684,
  ylabX: 35, ylabY: 402, rlabX: 721, rlabY: 418, geneY: 537, axisY: 569,
  legendX: 663, legendY: 323, legendH: 64, legendCols: ["#0033ff", "#ff0000"],
  snpLines: [
    { name: "rs1423269", pos: snpLead, top: 343, ty: 333, dx: 2, anchor: "middle" },
    { name: "rs11372862", pos: snpSecond, top: 350, ty: 348, dx: 1, anchor: "start" }
  ],
  innerLabels: [
    { name: "rs11372862", pos: snpSecond, v: 1.25, dx: 4 },
    { name: "rs1423269", pos: snpLead, v: 0.5, dx: -15 }
  ],
  layers: [
    { data: bGray, r: 1.3, fill: "#b3b3b3" },
    { data: bGrayTri, tri: true, size: 13, fill: "none", stroke: "#7a7a7a" },
    { data: bBlue, r: 1.7, fill: "#2138c0" },
    { data: bBlueTri, tri: true, size: 16, fill: "#2a3db5", stroke: "#0f1850" },
    { data: bRedMid, r: 1.6, fill: "#c9504d" },
    { data: bRedMidTri, tri: true, size: 16, fill: "#b24a4a", stroke: "#3e0c0c" },
    { data: bRed, r: 1.8, fill: "#dc1e1e" },
    { data: bRedTri, tri: true, size: 18, fill: "#c81e1e", stroke: "#3e0a0a" },
    { data: bLeadRed, r: 3.8, fill: "#e80000" },
    { data: bLeadBlue, r: 3.6, fill: "#1f42e0" },
    { data: bSecondBlue, r: 2.0, fill: "#1f3ad0" }
  ]
});

// ---------------- panel C ----------------
(function () {
  const g = svg.append("g");
  const x = d3.scaleLinear().domain([94.8, 95.6]).range([77, 610.6]);
  const yT = d3.scaleLinear().domain([0, 7]).range([771, 701]);
  const yB = d3.scaleLinear().domain([0, 15]).range([817, 781]);
  const fx = d => x(mbC(d[0]));

  g.append("text").attr("x", 3).attr("y", 641).attr("font-size", 13).attr("font-weight", "bold").text("C");

  // panel frames
  g.append("line").attr("x1", 70).attr("x2", 718).attr("y1", 776).attr("y2", 776).attr("stroke", "#ececec").attr("stroke-width", 2);
  g.append("line").attr("x1", 70).attr("x2", 718).attr("y1", 821).attr("y2", 821).attr("stroke", "#f0f0f0").attr("stroke-width", 2);

  // axes
  function yAxis(scale, ticks) {
    const a = g.append("g").attr("transform", "translate(62,0)")
      .call(d3.axisLeft(scale).tickValues(ticks).tickFormat(intFmt).tickSize(5).tickSizeOuter(0));
    a.select(".domain").attr("stroke", "#888");
    a.selectAll(".tick line").attr("stroke", "#888");
    a.selectAll(".tick text").attr("font-size", 10).attr("fill", "#333").attr("x", -8).attr("font-family", "Liberation Sans, Arial");
  }
  yAxis(yT, [0, 2, 4, 5, 7]);
  yAxis(yB, [0, 5, 10, 15]);
  const t1 = g.append("text").attr("transform", "translate(35,729) rotate(-90)").attr("text-anchor", "middle").attr("font-size", 7.5).attr("fill", "#333");
  t1.append("tspan").text("-log");
  t1.append("tspan").attr("font-size", 5.5).attr("dy", 2).text("10");
  t1.append("tspan").attr("dy", -2).text("(P GWAS or SMR)");
  const t2 = g.append("text").attr("transform", "translate(35,798) rotate(-90)").attr("text-anchor", "middle").attr("font-size", 7.5).attr("fill", "#333");
  t2.append("tspan").text("-log");
  t2.append("tspan").attr("font-size", 5.5).attr("dy", 2).text("10");
  t2.append("tspan").attr("dy", -2).text("(P eQTL)");

  // threshold
  const thr = -Math.log10(pSMR);
  g.append("line").attr("x1", 75).attr("x2", 716).attr("y1", yT(thr)).attr("y2", yT(thr))
    .attr("stroke", "#c9a3b4").attr("stroke-width", 0.7).attr("stroke-dasharray", "1.5,1.5");
  g.append("text").attr("x", 716).attr("y", yT(thr) - 5).attr("text-anchor", "end").attr("font-size", 9)
    .attr("font-style", "italic").attr("fill", "#c0508a").text("pSMR = 0.008333");

  // GWAS points
  drawDots(g, cGwas, fx, d => yT(d[1]), 1.45, "#c9990f");

  // eQTL points
  drawDots(g, cEqtlLight, fx, d => yB(d[1]), 1.3, "#e6a1be");
  drawDots(g, cEqtl, fx, d => yB(d[1]), 1.45, "#b3285c");
  drawDots(g, cEqtlTop, fx, d => yB(d[1]), 1.3, "#c9457a");
  const el = g.append("text").attr("x", 77).attr("y", 795).attr("font-size", 10).attr("fill", "#333");
  el.append("tspan").text("(");
  el.append("tspan").attr("font-style", "italic").text("ELL2");
  el.append("tspan").text(")");

  // probes: connectors, markers, labels
  cProbes.forEach(p => {
    const px = x(p.pos), py = yT(p.p), ax = x(p.anchor);
    g.append("path").attr("d", d3.line()([[px, py - 3], [px, 706], [Math.max(px, ax - 2), 703]]))
      .attr("fill", "none").attr("stroke", "#b8b8b8").attr("stroke-width", 0.8);
    g.append("circle").attr("cx", px).attr("cy", py).attr("r", 3.8)
      .attr("fill", p.hit ? "#eeb3d0" : "#aab4ea").attr("opacity", 0.9);
    g.append("circle").attr("cx", px).attr("cy", py).attr("r", 1.9)
      .attr("fill", p.hit ? "#c0408a" : "#20205a");
    const col = p.hit ? "#c0508a" : "#3b3b9e";
    const t = g.append("text").attr("transform", `translate(${ax},704) rotate(-30)`)
      .attr("font-size", 9.5).attr("fill", col);
    t.append("tspan").text(p.probe + " (");
    t.append("tspan").attr("font-style", "italic").text(p.gene);
    t.append("tspan").text(")");
  });

  // genes
  cGenes.forEach(gn => {
    const gy = gn.row === 0 ? 866 : 900;
    const x0 = x(gn.start), x1 = x(gn.end);
    g.append("line").attr("x1", x0).attr("x2", x1).attr("y1", gy).attr("y2", gy).attr("stroke", "#dccba0").attr("stroke-width", 1);
    const ah = gn.strand < 0 ? x0 : x1, dir = gn.strand < 0 ? 1 : -1;
    g.append("path").attr("d", `M${ah + dir * 3},${gy - 1.6}L${ah},${gy}L${ah + dir * 3},${gy + 1.6}`)
      .attr("fill", "none").attr("stroke", "#b5a680").attr("stroke-width", 0.7);
    g.append("text").attr("x", x(gn.label)).attr("y", gy - 3).attr("text-anchor", "middle")
      .attr("font-size", 8.5).attr("font-style", "italic").attr("fill", "#333").text(gn.name);
  });

  // x axis
  const xa = g.append("g").attr("transform", "translate(0,909)")
    .call(d3.axisBottom(x).tickValues(cTickVals).tickFormat((d, i) => cTickLabels[i]).tickSize(5).tickSizeOuter(0));
  xa.select(".domain").remove();
  xa.selectAll(".tick line").attr("stroke", "#888");
  xa.selectAll(".tick text").attr("font-size", 10).attr("fill", "#333").attr("y", 11).attr("font-family", "Liberation Sans, Arial");
  xa.selectAll(".tick text").filter((d, i) => i === cTickVals.length - 1).attr("text-anchor", "end").attr("x", 3);
  g.append("line").attr("x1", x(94.8)).attr("x2", x(95.765)).attr("y1", 909).attr("y2", 909).attr("stroke", "#999").attr("stroke-width", 1);
  g.append("text").attr("x", 380).attr("y", 949).attr("text-anchor", "middle").attr("font-size", 10.5).attr("fill", "#222").text("Chromosome 5 Mb");
})();
</script>
</body>
</html>
